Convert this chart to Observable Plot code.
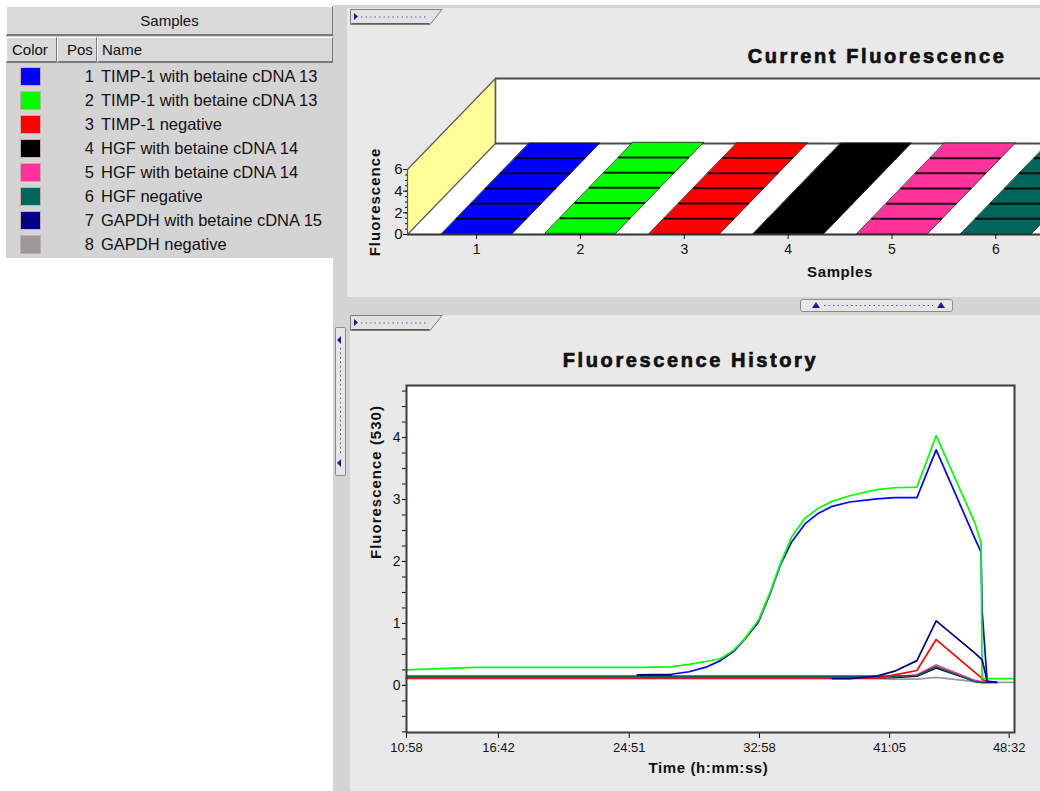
<!DOCTYPE html>
<html>
<head>
<meta charset="utf-8">
<script src="https://cdn.jsdelivr.net/npm/d3@7"></script>
<script src="https://cdn.jsdelivr.net/npm/@observablehq/plot@0.6"></script>
<style>
  html, body { margin: 0; padding: 0; width: 1040px; height: 791px; overflow: hidden; background: #fff;
    font-family: "Liberation Sans", Arial, sans-serif; color: #111; }
  #root { position: relative; width: 1040px; height: 791px; overflow: hidden; }
  .abs { position: absolute; }
  #samples { left: 6px; top: 6px; width: 327px; height: 252px; background: #d4d4d4; }
  .hdr { position: absolute; background: #d9d9d9; box-sizing: border-box;
    border-top: 1px solid #fff; border-left: 1px solid #fff; border-bottom: 2px solid #7a7a7a; border-right: 1px solid #7a7a7a;
    font-size: 15px; line-height: 24px; }
  .row { position: absolute; left: 0; width: 327px; height: 24px; font-size: 16.5px; line-height: 24px; }
  .sw { position: absolute; left: 14px; top: 3px; width: 19px; height: 17px; border: 1px solid #c9a9a9; }
  .pos { position: absolute; right: 239px; top: 0; text-align: right; }
  .nm { position: absolute; left: 95px; top: 0; white-space: nowrap; }
  #plotTop, #plotBottom { position: absolute; }
</style>
</head>
<body>
<div id="root">
  <!-- window chrome: splitters and panels -->
  <div class="abs" style="left:333px;top:0;width:707px;height:791px;background:#d4d4d4"></div>
  <div class="abs" style="left:333px;top:0;width:707px;height:5px;background:#fff"></div>
  <div class="abs" style="left:347px;top:8px;width:693px;height:289px;background:#e9e9e9"></div>
  <div class="abs" style="left:350px;top:315px;width:690px;height:476px;background:#e9e9e9"></div>

  <div id="samples" class="abs">
    <div class="hdr" style="left:0;top:0;width:327px;height:30px;text-align:center;line-height:28px">Samples</div>
    <div class="hdr" style="left:0;top:31px;width:51px;height:26px;padding-left:5px">Color</div>
    <div class="hdr" style="left:51px;top:31px;width:40px;height:26px;padding-left:9px">Pos</div>
    <div class="hdr" style="left:91px;top:31px;width:236px;height:26px;padding-left:4px">Name</div>
    <div id="rows"></div>
  </div>

  <svg class="abs" style="left:0;top:0" width="1040" height="791" id="chrome"></svg>

  <div id="plotTop" style="left:347px;top:8px"></div>
  <div id="plotBottom" style="left:350px;top:315px"></div>
</div>

<script>
// ---- samples ----
const positions = [1, 2, 3, 4, 5, 6, 7, 8];
const sampleNames = [
  "TIMP-1 with betaine cDNA 13",
  "TIMP-1 with betaine cDNA 13",
  "TIMP-1 negative",
  "HGF with betaine cDNA 14",
  "HGF with betaine cDNA 14",
  "HGF negative",
  "GAPDH with betaine cDNA 15",
  "GAPDH negative"
];
const sampleColors = ["#0000ff", "#00ff00", "#ff0000", "#000000", "#ff3399", "#00665c", "#000080", "#999999"];

// ---- current fluorescence (last reading per sample) ----
const currentFluorescence = [0.05, 0.11, 0.06, 0.05, 0.05, 0.05, 0.05, 0.05];
const currentTicksY = [0, 2, 4, 6];

// ---- fluorescence history (530 nm), one array per sample ----
const historyTimes = ["10:58", "15:12", "20:47", "25:22", "27:28", "28:35", "29:42", "30:32", "31:22", "32:04",
  "32:54", "33:36", "34:17", "34:59", "35:49", "36:39", "37:30", "38:36", "40:17", "41:24",
  "42:47", "43:59", "46:24", "46:47", "46:51", "47:10", "47:45", "48:52"];
const history1 = [null, null, null, 0.17, 0.18, 0.22, 0.30, 0.40, 0.55, 0.75,
  1.02, 1.46, 1.95, 2.32, 2.61, 2.78, 2.89, 2.96, 3.01, 3.03,
  3.03, 3.80, 2.37, 2.15, 1.20, 0.05, 0.05, null];
const history2 = [0.25, 0.29, 0.29, 0.29, 0.30, 0.34, 0.39, 0.43, 0.57, 0.76,
  1.05, 1.48, 1.97, 2.40, 2.70, 2.86, 2.97, 3.06, 3.16, 3.19,
  3.20, 4.03, 2.62, 2.30, 0.11, 0.11, 0.11, 0.11];
const history3 = [0.12, 0.12, 0.12, 0.12, 0.12, 0.12, 0.12, 0.12, 0.12, 0.12,
  0.12, 0.12, 0.12, 0.12, 0.12, 0.12, 0.12, 0.12, 0.12, 0.17,
  0.24, 0.74, 0.21, 0.13, 0.10, 0.06, null, null];
const history4 = [0.12, 0.12, 0.12, 0.12, 0.12, 0.12, 0.12, 0.12, 0.12, 0.12,
  0.12, 0.12, 0.12, 0.12, 0.12, 0.12, 0.12, 0.12, 0.12, 0.13,
  0.15, 0.28, 0.07, 0.05, 0.05, 0.05, null, null];
const history5 = [0.12, 0.12, 0.12, 0.12, 0.12, 0.12, 0.12, 0.12, 0.12, 0.12,
  0.12, 0.12, 0.12, 0.12, 0.12, 0.12, 0.12, 0.12, 0.12, 0.14,
  0.17, 0.33, 0.08, 0.06, 0.06, 0.05, null, null];
const history6 = [0.15, 0.15, 0.15, 0.15, 0.15, 0.15, 0.15, 0.15, 0.15, 0.15,
  0.15, 0.15, 0.15, 0.15, 0.15, 0.15, 0.15, 0.15, 0.15, 0.15,
  0.16, 0.30, 0.06, 0.05, 0.05, 0.05, null, null];
const history7 = [null, null, null, 0.17, 0.17, null, null, null, null, null,
  null, null, null, null, null, null, 0.11, 0.11, 0.15, 0.23,
  0.40, 1.04, 0.52, 0.43, 0.41, 0.07, 0.05, null];
const history8 = [0.11, 0.11, 0.11, 0.11, 0.11, 0.11, 0.11, 0.11, 0.11, 0.11,
  0.11, 0.11, 0.11, 0.11, 0.11, 0.11, 0.11, 0.11, 0.11, 0.10,
  0.10, 0.13, 0.06, 0.05, 0.05, 0.05, 0.05, 0.05];
const historyTicksX = ["10:58", "16:42", "24:51", "32:58", "41:05", "48:32"];
const historyTicksY = [0, 1, 2, 3, 4];
const historyEnd = "48:52";

// ---- sample table ----
const rowsSel = d3.select("#rows");
positions.forEach((p, i) => {
  const r = rowsSel.append("div").attr("class", "row").style("top", (58 + i * 24) + "px");
  r.append("div").attr("class", "sw").style("background", sampleColors[i]);
  r.append("div").attr("class", "pos").text(p);
  r.append("div").attr("class", "nm").text(sampleNames[i]);
});

// ---- chrome widgets (tabs and splitter handles) ----
const chrome = d3.select("#chrome");
function tab(x, y) {
  const g = chrome.append("g").attr("transform", `translate(${x},${y})`);
  g.append("path").attr("d", "M0.5,0.5H92L80,15.5H0.5Z").attr("fill", "#e2e2e2").attr("stroke", "#7d7d7d");
  g.append("path").attr("d", "M1.5,14.5H79.5").attr("stroke", "#5a5a5a");
  g.append("path").attr("d", "M4,4L8,7.5L4,11Z").attr("fill", "#1a1aa0");
  g.append("line").attr("x1", 11).attr("x2", 78).attr("y1", 8).attr("y2", 8)
    .attr("stroke", "#5a5ab4").attr("stroke-dasharray", "1.5,3");
}
tab(350, 9);
tab(350, 315);
// horizontal splitter handle
chrome.append("rect").attr("x", 800.5).attr("y", 299.5).attr("width", 152).attr("height", 12).attr("rx", 2)
  .attr("fill", "#e6e6e6").attr("stroke", "#8a8a8a");
chrome.append("path").attr("d", "M812,308L816,302L820,308Z M937,308L941,302L945,308Z").attr("fill", "#1a1aa0");
chrome.append("line").attr("x1", 824).attr("x2", 933).attr("y1", 305.5).attr("y2", 305.5)
  .attr("stroke", "#5a5ab4").attr("stroke-dasharray", "1.5,3");
// vertical splitter handle
chrome.append("rect").attr("x", 335.5).attr("y", 327.5).attr("width", 10).attr("height", 148).attr("rx", 1)
  .attr("fill", "#e6e6e6").attr("stroke", "#8a8a8a");
chrome.append("path").attr("d", "M341,336L337,340L341,344Z M341,459L337,463L341,467Z").attr("fill", "#1a1aa0");
chrome.append("line").attr("x1", 340.5).attr("x2", 340.5).attr("y1", 348).attr("y2", 456)
  .attr("stroke", "#5a5ab4").attr("stroke-dasharray", "1.5,3");

const parseT = s => { const [m, sec] = s.split(":").map(Number); return m * 60 + sec; };
const colorScale = { type: "ordinal", domain: positions, range: sampleColors };
const baseStyle = { fontFamily: "Liberation Sans, Arial, sans-serif", fontSize: "13px", background: "transparent", overflow: "hidden", color: "#111" };
const titleFont = { fontFamily: "Liberation Sans, Arial, sans-serif", fontWeight: "bold", fontSize: 20, stroke: "#111", strokeWidth: 0.7, fill: "#111" };

// letter spacing for the heavy chart titles and axis titles
function spaceText(svg, spacing) {
  d3.select(svg).selectAll("text").each(function () {
    const s = spacing[this.textContent];
    if (s != null) this.setAttribute("letter-spacing", s);
  });
}

// ---- Current Fluorescence: pseudo-3D floor with flat bars ----
{
  const X0 = 0.335, X1 = 6.43, XR = 9.5;  // floor left edge, visible right edge, far right
  const DX = 0.847, DY = 8.4;     // depth offset in x (sample units) and y (fluorescence units)
  const HW = 0.34;                // half bar width
  const WALL = 6;
  const poly = (pts, key) => pts.map(([x, y]) => ({ key, x, y }));
  const leftWall = poly([[X0, 0], [X0, WALL], [X0 + DX, DY + WALL], [X0 + DX, DY]], "wall");
  const floor = poly([[X0, 0], [XR, 0], [XR + DX, DY], [X0 + DX, DY]], "floor");
  const bars = positions.flatMap((k, i) => {
    const v = currentFluorescence[i];
    return poly([[k - HW, v], [k + HW, v], [k + HW + DX, v + DY], [k - HW + DX, v + DY]], k);
  });
  const stripes = positions.flatMap((k, i) => d3.range(1, 6).map(j => ({ k, f: j / 6, v: currentFluorescence[i] })));

  const top = Plot.plot({
    width: 693, height: 289,
    marginLeft: 60, marginRight: 0, marginTop: 70, marginBottom: 63,
    x: { domain: [X0, X1] },
    y: { domain: [0, 14.4] },
    color: colorScale,
    style: baseStyle,
    marks: [
      Plot.rect([0], { x1: X0 + DX, x2: XR + DX, y1: DY, y2: DY + WALL, fill: "white" }),
      Plot.ruleY([DY + WALL], { x1: X0 + DX, x2: XR + DX, stroke: "#4a4a4a", strokeWidth: 2 }),
      Plot.line(floor, { x: "x", y: "y", z: "key", fill: "white", stroke: "none", curve: "linear-closed" }),
      Plot.line(leftWall, { x: "x", y: "y", z: "key", fill: "#ffff99", stroke: "#5a5a5a", strokeWidth: 1.2, curve: "linear-closed" }),
      Plot.ruleX([X0 + DX], { y1: DY, y2: DY + WALL, stroke: "#5a5a5a", strokeWidth: 1.5 }),
      Plot.ruleY([DY], { x1: X0 + DX, x2: XR + DX, stroke: "#4a4a4a", strokeWidth: 2 }),
      Plot.line(bars, { x: "x", y: "y", z: "key", fill: "key", stroke: "#1a1a1a", strokeWidth: 0.8, curve: "linear-closed" }),
      Plot.link(stripes, {
        x1: d => d.k - HW + d.f * DX, y1: d => d.v + d.f * DY,
        x2: d => d.k + HW + d.f * DX, y2: d => d.v + d.f * DY,
        stroke: "#000", strokeWidth: 2, strokeOpacity: 0.85
      }),
      Plot.ruleY([0], { x1: X0, x2: XR, stroke: "#333", strokeWidth: 2 }),
      Plot.axisY({ ticks: d3.range(0, 6.01, 0.5), tickSize: 2, tickFormat: () => "", label: null }),
      Plot.axisY({ ticks: currentTicksY, tickSize: 4, tickPadding: 1, tickFormat: d3.format("d"), label: null, fontSize: 15 }),
      Plot.axisX({ ticks: positions.filter(k => k + HW < X1), tickSize: 5, tickPadding: 5, tickFormat: d3.format("d"), label: null, fontSize: 14 }),
      Plot.text(["Fluorescence"], { x: X0, y: WALL / 2, dx: -32, rotate: -90, fontWeight: "bold", fontSize: 15 }),
      Plot.text(["Samples"], { x: 4.5, frameAnchor: "bottom", dy: 42, fontWeight: "bold", fontSize: 15 }),
      Plot.text(["Current Fluorescence"], { frameAnchor: "top-left", dx: 469.5, dy: -30, textAnchor: "middle", ...titleFont })
    ]
  });
  spaceText(top, { "Current Fluorescence": 2.6, "Fluorescence": 1, "Samples": 0.6 });
  document.getElementById("plotTop").append(top);
}

// ---- Fluorescence History: line per sample ----
{
  const series = [history1, history2, history3, history4, history5, history6, history7, history8];
  const drawOrder = [8, 4, 5, 6, 3, 1, 2, 7];
  const rows = drawOrder.flatMap(p => historyTimes.map((t, j) => ({ sample: p, t: parseT(t), v: series[p - 1][j] })));
  const minorY = d3.range(-0.75, 4.76, 0.25);

  const bottom = Plot.plot({
    width: 690, height: 476,
    marginLeft: 56, marginRight: 26, marginTop: 70, marginBottom: 59,
    x: { domain: [parseT(historyTimes[0]), parseT(historyEnd)] },
    y: { domain: [-0.76, 4.84] },
    color: colorScale,
    style: baseStyle,
    marks: [
      Plot.frame({ fill: "white" }),
      Plot.axisY({ ticks: minorY, tickSize: 4, tickFormat: () => "", label: null }),
      Plot.axisY({ ticks: historyTicksY, tickSize: 4, tickPadding: 2, tickFormat: d3.format("d"), label: null, fontSize: 14 }),
      Plot.axisX({ ticks: historyTicksX.map(parseT), tickFormat: (d, i) => historyTicksX[i], tickSize: 6, tickPadding: 4, label: null, fontSize: 13 }),
      Plot.line(rows, { x: "t", y: "v", z: "sample", stroke: "sample", strokeWidth: 1.7 }),
      Plot.frame({ stroke: "#3c3c3c", strokeWidth: 2 }),
      Plot.text(["Fluorescence (530)"], { frameAnchor: "left", dx: -30, rotate: -90, fontWeight: "bold", fontSize: 15 }),
      Plot.text(["Time (h:mm:ss)"], { frameAnchor: "bottom", dx: -2, dy: 40, fontWeight: "bold", fontSize: 15 }),
      Plot.text(["Fluorescence History"], { frameAnchor: "top", dx: -20, dy: -33, ...titleFont })
    ]
  });
  spaceText(bottom, { "Fluorescence History": 2.6, "Fluorescence (530)": 1, "Time (h:mm:ss)": 0.6 });
  document.getElementById("plotBottom").append(bottom);
}
</script>
</body>
</html>
